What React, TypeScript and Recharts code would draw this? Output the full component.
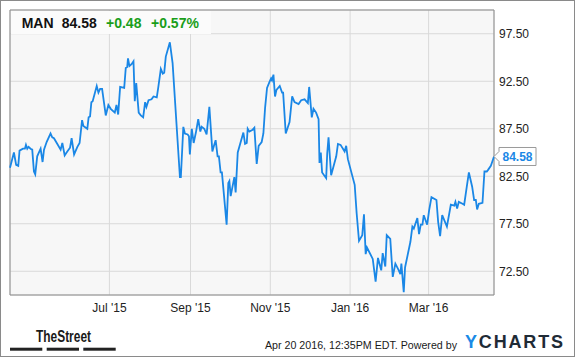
import React from 'react';
import { LineChart, Line, XAxis, YAxis, CartesianGrid, ReferenceArea, ReferenceDot } from 'recharts';

// x = calendar days since Apr 16 2015, y = closing price (USD)
const tradeDays = [
  0, 3.0, 4.7, 6.3, 7.3, 9.9, 11.4, 12.2, 13.2, 14.2, 15.7, 17.0, 18.3, 19.3, 20.8, 23.4, 24.9, 26.0, 28.0,
  31.0, 32.3, 33.6, 36.2, 38.7, 40.0, 41.8, 43.8, 45.9, 47.1, 49.0, 51.5, 53.2, 55.1, 56.1, 59.1, 60.1, 61.2,
  62.2, 63.2, 66.3, 67.6, 68.9, 70.4, 73.2, 75.2, 77.0, 80.1, 81.4, 82.7, 84.2, 87.3, 88.5, 89.6, 90.2, 91.3,
  92.9, 94.4, 95.4, 96.5, 98.4, 100.0, 101.8, 103.3, 104.3, 105.9, 108.2, 109.7, 112.2, 113.3, 115.3, 116.8,
  117.9, 119.1, 122.2, 124.3, 129.9, 130.6, 132.5, 133.7, 135.8, 136.8, 137.5, 139.0, 140.4, 142.1, 143.9,
  145.5, 146.5, 148.5, 150.3, 152.4, 154.7, 155.7, 157.2, 158.7, 159.7, 161.0, 162.0, 165.6, 166.9, 167.7,
  168.7, 171.5, 172.5, 174.1, 178.4, 179.7, 181.0, 181.7, 183.0, 185.5, 186.8, 188.6, 190.1, 192.4, 193.7,
  195.0, 196.5, 198.3, 199.6, 200.3, 201.4, 202.6, 203.7, 206.2, 208.0, 208.8, 210.8, 213.7, 215.7, 217.5,
  220.6, 222.6, 225.2, 227.7, 228.7, 230.7, 232.0, 234.0, 235.9, 236.6, 237.6, 238.6, 241.7, 242.5, 243.5,
  245.5, 249.4, 250.7, 252.7, 255.8, 257.0, 258.3, 263.5, 265.0, 266.8, 269.3, 270.6, 271.9, 272.9, 277.3,
  279.5, 281.3, 283.8, 284.9, 286.9, 288.0, 290.7, 292.6, 294.6, 297.2, 298.4, 299.2, 301.0, 302.0, 306.1,
  307.6, 308.7, 311.4, 312.7, 314.0, 315.3, 316.3, 318.9, 320.4, 322.2, 326.0, 327.3, 328.8, 330.4, 334.0,
  337.0, 339.6, 340.5, 341.8, 343.1, 345.9, 347.2, 349.2, 350.8, 353.3, 354.8, 356.1, 357.1, 358.4, 361.2,
  362.7, 364.5, 365.6, 367.6, 368.6, 370,
];

const closePrices = [
  83.4, 85.0, 83.7, 83.6, 85.2, 85.4, 85.4, 85.8, 85.4, 85.6, 85.4, 85.3, 83.0, 82.7, 84.6, 85.4, 84.0, 85.3, 86.1,
  87.0, 86.6, 86.5, 85.9, 85.3, 86.0, 84.7, 85.1, 85.5, 86.5, 84.8, 85.6, 86.0, 88.4, 87.8, 87.5, 88.7, 88.8,
  90.3, 90.4, 92.0, 91.3, 91.7, 91.7, 88.9, 90.0, 89.6, 89.2, 90.0, 89.0, 91.9, 91.8, 93.9, 94.0, 94.9, 94.1,
  94.3, 94.6, 90.4, 92.3, 89.2, 88.9, 88.7, 90.3, 89.8, 90.5, 90.6, 90.9, 90.8, 91.8, 93.8, 93.3,
  93.4, 95.1, 96.6, 94.4, 82.4, 82.4, 87.7, 87.0, 86.9, 86.7, 84.8, 87.5, 86.0, 87.1, 88.5,
  87.2, 87.7, 87.5, 86.9, 89.8, 85.1, 85.6, 86.3, 84.6, 84.6, 82.9, 82.9, 77.4, 81.8, 82.0,
  80.4, 82.4, 80.8, 85.0, 87.1, 85.9, 86.0, 87.5, 87.2, 87.4, 87.6, 83.8, 85.7, 86.1, 87.0,
  89.7, 91.8, 92.4, 92.8, 92.6, 93.2, 90.9, 91.6, 92.0, 91.3, 91.3, 87.0, 88.2, 90.9, 90.3,
  90.1, 90.5, 90.6, 90.2, 91.9, 88.7, 89.6, 89.2, 88.5, 83.9, 85.0, 82.9, 82.3, 84.9, 86.6,
  82.6, 84.6, 85.9, 85.8, 85.1, 85.7, 84.3, 81.6, 78.6, 75.7, 76.3, 78.5, 74.3, 75.0, 73.8,
  71.4, 73.9, 72.6, 74.4, 73.0, 76.3, 75.9, 71.9, 73.3, 72.6, 72.2, 73.3, 70.3, 72.9, 75.6,
  77.2, 77.0, 78.1, 76.4, 77.4, 77.4, 78.4, 77.4, 78.9, 80.3, 80.0, 77.7, 76.2, 78.4, 77.2,
  79.5, 79.4, 79.8, 79.1, 79.8, 79.6, 79.5, 81.4, 82.9, 81.4, 80.0, 80.0, 79.0, 79.6, 79.7,
  83.0, 83.0, 83.2, 83.6, 84.0, 84.58,
];

const monthTickDays = [76, 138, 199, 260, 320];
const monthTickLabels = ["Jul '15", "Sep '15", "Nov '15", "Jan '16", "Mar '16"];
const priceTicks = [72.5, 77.5, 82.5, 87.5, 92.5, 97.5];

const ticker = 'MAN';
const lastPrice = 84.58;
const changeAbs = '+0.48';
const changePct = '+0.57%';
const timestampText = 'Apr 20 2016, 12:35PM EDT. Powered by';

const data = tradeDays.map((d, i) => ({ d, p: closePrices[i] }));

const FONT = '"Liberation Sans", Arial, Helvetica, sans-serif';
const LINE_BLUE = '#1a87e6';
const GREEN = '#1a9e1a';

const PriceTag = (props: any) => {
  const { cx, cy } = props;
  if (cx == null || cy == null) return null;
  const x0 = cx + 5;
  const x1 = cx + 42;
  const h = 9;
  return (
    <g>
      <path
        d={`M${cx},${cy} L${x0},${cy - 5} L${x0},${cy - h} L${x1},${cy - h} L${x1},${cy + h} L${x0},${cy + h} L${x0},${cy + 5} Z`}
        fill="#ffffff"
        stroke="#9a9a9a"
        strokeWidth={1}
      />
      <text x={(x0 + x1) / 2} y={cy + 4.4} textAnchor="middle" fontFamily={FONT} fontSize={12} fontWeight="bold" fill={LINE_BLUE}>
        {lastPrice.toFixed(2)}
      </text>
    </g>
  );
};

export default function App() {
  return (
    <div style={{ position: 'absolute', left: 0, top: 0, width: 575, height: 358, background: '#ffffff', fontFamily: FONT }}>
      <LineChart width={575} height={358} data={data} margin={{ top: 10, right: 0, bottom: 43, left: 10 }}>
        <CartesianGrid fill="#f7f7f7" stroke="#d9d9d9" strokeWidth={1} />
        <XAxis
          dataKey="d"
          type="number"
          domain={[0, 370]}
          ticks={monthTickDays}
          interval={0}
          tickFormatter={(v: number) => monthTickLabels[monthTickDays.indexOf(v)]}
          height={20}
          axisLine={false}
          tickLine={false}
          tickSize={0}
          tickMargin={8}
          tick={{ fontSize: 12, fill: '#222222', fontFamily: FONT }}
        />
        <YAxis
          type="number"
          orientation="right"
          domain={[70, 100]}
          ticks={priceTicks}
          interval={0}
          tickFormatter={(v: number) => v.toFixed(2)}
          width={81}
          axisLine={false}
          tickLine={false}
          tickSize={0}
          tickMargin={5}
          tick={{ fontSize: 12, fill: '#222222', fontFamily: FONT, textAnchor: 'start' }}
        />
        <ReferenceArea x1={0} x2={370} y1={70} y2={100} fill="none" fillOpacity={0} stroke="#8c8c8c" strokeWidth={1} />
        <Line type="linear" dataKey="p" stroke={LINE_BLUE} strokeWidth={1.8} dot={false} isAnimationActive={false} />
        <ReferenceDot x={370} y={lastPrice} r={0} shape={PriceTag} />
      </LineChart>
      <svg width={575} height={358} style={{ position: 'absolute', left: 0, top: 0, pointerEvents: 'none' }}>
        <rect x={0.5} y={0.5} width={574} height={356} fill="none" stroke="#8a8a8a" strokeWidth={1} />
        <rect x={11} y={11} width={200} height={23} fill="#fbfbfb" />
        <g fontFamily={FONT} fontSize={14} fontWeight="bold">
          <text x={21.7} y={28.3} fill="#111111">{ticker}</text>
          <text x={61.7} y={28.3} fill="#111111">{lastPrice.toFixed(2)}</text>
          <text x={106} y={28.3} fill={GREEN}>{changeAbs}</text>
          <text x={151} y={28.3} fill={GREEN}>{changePct}</text>
        </g>
        <text x={36} y={341.7} fontFamily={FONT} fontSize={16} fontWeight="bold" fill="#1a1a1a" textLength={55} lengthAdjust="spacingAndGlyphs">
          TheStreet
        </text>
        <rect x={10} y={347.7} width={32.3} height={3} fill="#222222" />
        <rect x={46.7} y={347.7} width={32.3} height={3} fill="#222222" />
        <rect x={83.3} y={347.7} width={32.4} height={3} fill="#222222" />
        <text x={265} y={349} fontFamily={FONT} fontSize={11} fill="#1a1a1a" textLength={192} lengthAdjust="spacingAndGlyphs">
          {timestampText}
        </text>
        <text x={465} y={348} fontFamily={FONT} fontSize={18} fontWeight="bold" textLength={98} lengthAdjust="spacing">
          <tspan fill="#1a8ae6">Y</tspan>
          <tspan fill="#1f2b36">CHARTS</tspan>
        </text>
      </svg>
    </div>
  );
}
